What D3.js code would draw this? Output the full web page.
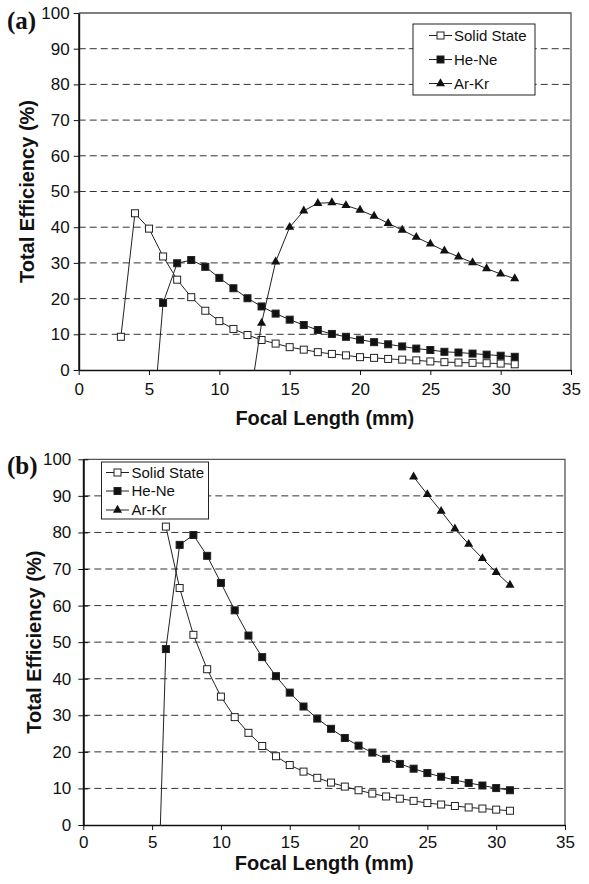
<!DOCTYPE html>
<meta charset="utf-8">
<head>
    <title>Total Efficiency vs Focal Length</title>
</head>
<style>
    body { margin: 0; background: #fff; }
    text { font-family: "Liberation Sans", Arial, sans-serif; fill: #111; }
</style>
<div id="chart"></div>
<script src="https://d3js.org/d3.v7.min.js"></script>
<script>

// ---- data ----
var xTicks = [0, 5, 10, 15, 20, 25, 30, 35];
var yTicks = [0, 10, 20, 30, 40, 50, 60, 70, 80, 90, 100];
var seriesNames = ["Solid State", "He-Ne", "Ar-Kr"];

// panel (a)
var solidA_x = d3.range(3, 32);
var solidA = [9.3, 43.9, 39.6, 31.8, 25.3, 20.4, 16.6, 13.7, 11.5, 9.8, 8.4, 7.4, 6.4, 5.7, 5.0,
              4.5, 4.1, 3.6, 3.4, 3.1, 2.9, 2.7, 2.4, 2.2, 2.1, 2.0, 1.9, 1.8, 1.6];
var heneA_x = d3.range(5, 32);
var heneA = [-28, 18.8, 29.9, 30.8, 28.9, 25.8, 22.9, 20.1, 17.8, 15.8, 14.1, 12.6, 11.2, 10.1,
             9.3, 8.5, 7.8, 7.2, 6.6, 6.0, 5.6, 5.1, 4.9, 4.6, 4.3, 4.0, 3.7];
var arkrA_x = d3.range(12, 32);
var arkrA = [-13, 13.1, 30.3, 40.0, 44.6, 46.7, 46.9, 46.1, 44.8, 43.1, 41.1, 39.2, 37.2, 35.3,
             33.4, 31.7, 30.1, 28.4, 26.9, 25.6];

// panel (b)
var solidB_x = d3.range(6, 32);
var solidB = [81.6, 64.8, 52.0, 42.6, 35.1, 29.5, 25.2, 21.6, 18.8, 16.4, 14.6, 12.9, 11.6,
              10.5, 9.5, 8.6, 7.8, 7.2, 6.6, 6.0, 5.6, 5.2, 4.8, 4.5, 4.2, 3.9];
var heneB_x = d3.range(5, 32);
var heneB = [-72, 48.1, 76.6, 79.3, 73.6, 66.2, 58.7, 51.8, 45.9, 40.7, 36.2, 32.4, 29.1, 26.3,
             23.8, 21.7, 19.8, 18.1, 16.7, 15.4, 14.2, 13.2, 12.3, 11.5, 10.8, 10.1, 9.5];
var arkrB_x = d3.range(24, 32);
var arkrB = [95.2, 90.4, 85.8, 81.0, 76.8, 72.9, 69.1, 65.6];

var svg = d3.select("#chart")
  .append("svg")
    .attr("width", 589)
    .attr("height", 884);

var panels = [
  { id: "a", label: "(a)", left: 78.7, right: 571, top: 13, bottom: 370,
    series: [[solidA_x, solidA], [heneA_x, heneA], [arkrA_x, arkrA]],
    legend: { x: 413, y: 24, w: 122, h: 71, rows: [35.5, 59.5, 83.5], lineX: 429, text: 454 },
    yTickCross: false, yTitleX: 34, xLabY: 395, xTitleY: 425, labelY: 29 },
  { id: "b", label: "(b)", left: 83.3, right: 565, top: 459.3, bottom: 825,
    series: [[solidB_x, solidB], [heneB_x, heneB], [arkrB_x, arkrB]],
    legend: { x: 101.5, y: 462, w: 107, h: 57, rows: [472.5, 491, 510], lineX: 106, text: 131.5 },
    yTickCross: true, yTitleX: 41, xLabY: 848, xTitleY: 870, labelY: 474 }
];

panels.forEach(function(p) {
  var x = d3.scaleLinear().domain([0, 35]).range([p.left, p.right]);
  var y = d3.scaleLinear().domain([0, 100]).range([p.bottom, p.top]);
  var g = svg.append("g");

  // dashed grid lines
  g.selectAll(".grid")
    .data(yTicks.filter(function(d) { return d > 0 && d < 100; }))
    .enter().append("line")
      .attr("x1", p.left).attr("x2", p.right)
      .attr("y1", function(d) { return y(d); })
      .attr("y2", function(d) { return y(d); })
      .attr("stroke", "#333")
      .attr("stroke-width", 1)
      .attr("stroke-dasharray", "7,4");

  // frame top + right
  g.append("path")
    .attr("d", "M" + p.left + "," + p.top + "H" + p.right + "V" + p.bottom)
    .attr("fill", "none")
    .attr("stroke", "#555")
    .attr("stroke-width", 1.3);

  // axes
  var xAxis = g.append("g")
    .attr("transform", "translate(0," + p.bottom + ")")
    .call(d3.axisBottom(x).tickValues(xTicks).tickSize(5).tickSizeOuter(0));
  xAxis.select(".domain").attr("stroke", "#111").attr("stroke-width", 1.6);
  xAxis.selectAll(".tick line").attr("stroke", "#111");
  xAxis.selectAll(".tick text")
    .attr("y", null).attr("dy", null)
    .attr("transform", "translate(0," + (p.xLabY - p.bottom) + ")")
    .style("font-size", "17px")
    .style("font-family", "'Liberation Sans', Arial, sans-serif")
    .attr("fill", "#111");

  var yAxis = g.append("g")
    .attr("transform", "translate(" + p.left + ",0)")
    .call(d3.axisLeft(y).tickValues(yTicks).tickSize(5).tickSizeOuter(0)
      .tickPadding(p.yTickCross ? 7 : 4));
  yAxis.select(".domain").attr("stroke", "#111").attr("stroke-width", 2);
  yAxis.selectAll(".tick line").attr("stroke", "#111")
    .attr("x2", -5).attr("x1", p.yTickCross ? 5 : 0);
  yAxis.selectAll(".tick text")
    .style("font-size", "17px")
    .style("font-family", "'Liberation Sans', Arial, sans-serif")
    .attr("fill", "#111");

  // titles
  g.append("text")
    .attr("x", (p.left + p.right) / 2)
    .attr("y", p.xTitleY)
    .attr("text-anchor", "middle")
    .style("font-size", "20px")
    .style("font-weight", "bold")
    .text("Focal Length (mm)");

  g.append("text")
    .attr("transform", "translate(" + p.yTitleX + "," + ((p.top + p.bottom) / 2) + ") rotate(-90)")
    .attr("text-anchor", "middle")
    .style("font-size", "20px")
    .style("font-weight", "bold")
    .text("Total Efficiency (%)");

  g.append("text")
    .attr("x", 7)
    .attr("y", p.labelY)
    .style("font-family", "'Liberation Serif', 'Times New Roman', serif")
    .style("font-size", "25px")
    .style("font-weight", "bold")
    .text(p.label);

  // clip for the lines
  svg.append("clipPath").attr("id", "clip-" + p.id)
    .append("rect")
      .attr("x", p.left).attr("y", p.top)
      .attr("width", p.right - p.left).attr("height", p.bottom - p.top + 1);

  var line = d3.line()
    .x(function(d) { return x(d[0]); })
    .y(function(d) { return y(d[1]); });

  var plot = g.append("g");
  p.series.forEach(function(s, i) {
    var pts = s[0].map(function(v, k) { return [v, s[1][k]]; });
    plot.append("path")
      .datum(pts)
      .attr("clip-path", "url(#clip-" + p.id + ")")
      .attr("fill", "none")
      .attr("stroke", "#222")
      .attr("stroke-width", 1)
      .attr("d", line);

    var shown = pts.filter(function(d) { return d[1] >= 0 && d[1] <= 100; });
    drawMarkers(plot, shown, i, x, y);
  });

  // legend
  var L = p.legend;
  var lg = g.append("g");
  lg.append("rect")
    .attr("x", L.x).attr("y", L.y)
    .attr("width", L.w).attr("height", L.h)
    .attr("fill", "#fff")
    .attr("stroke", "#222")
    .attr("stroke-width", 1);
  seriesNames.forEach(function(name, i) {
    var cy = L.rows[i];
    lg.append("line")
      .attr("x1", L.lineX).attr("x2", L.lineX + 23)
      .attr("y1", cy).attr("y2", cy)
      .attr("stroke", "#222").attr("stroke-width", 1);
    drawMarkers(lg, [[0, 0]], i,
      function() { return L.lineX + 11.5; },
      function() { return cy; });
    lg.append("text")
      .attr("x", L.text)
      .attr("y", cy)
      .attr("dy", "0.35em")
      .style("font-size", "15px")
      .text(name);
  });
});

function drawMarkers(sel, pts, i, x, y) {
  if (i === 2) {
    sel.selectAll(null)
      .data(pts)
      .enter().append("path")
        .attr("d", d3.symbol().type(d3.symbolTriangle).size(36))
        .attr("transform", function(d) { return "translate(" + x(d[0]) + "," + y(d[1]) + ")"; })
        .attr("fill", "#111");
  } else {
    sel.selectAll(null)
      .data(pts)
      .enter().append("rect")
        .attr("x", function(d) { return x(d[0]) - 3.5; })
        .attr("y", function(d) { return y(d[1]) - 3.5; })
        .attr("width", 7).attr("height", 7)
        .attr("fill", i === 0 ? "#fff" : "#111")
        .attr("stroke", "#222")
        .attr("stroke-width", 1);
  }
}
</script>
